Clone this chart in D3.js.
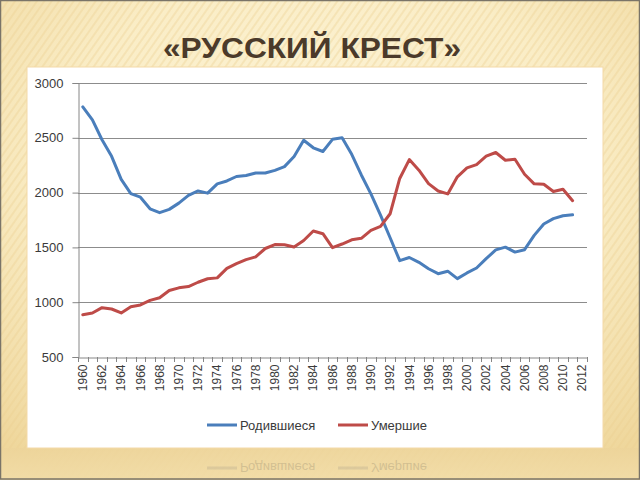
<!DOCTYPE html>
<html><head><meta charset="utf-8">
<script src="https://cdn.jsdelivr.net/npm/d3@7"></script>
<style>body{margin:0;padding:0;overflow:hidden;background:#fff}</style>
</head><body>
<svg id="c" width="640" height="480"></svg>
<script>
const titleText = "«РУССКИЙ КРЕСТ»";
const years = d3.range(1960, 2013).map(String);
const yTicks = [500, 1000, 1500, 2000, 2500, 3000];
const seriesNames = ["Родившиеся", "Умершие"];
const births = [2782,2663,2482,2331,2121,1991,1958,1852,1817,1847,1904,1975,2015,1995,2080,2106,2147,2156,2179,2179,2203,2237,2329,2478,2409,2375,2486,2500,2349,2161,1989,1795,1588,1379,1408,1364,1305,1260,1283,1215,1267,1312,1397,1477,1502,1457,1479,1610,1714,1762,1789,1797];
const deaths = [886,901,950,938,902,958,975,1017,1040,1107,1131,1143,1182,1214,1222,1309,1352,1388,1414,1490,1526,1524,1504,1563,1650,1625,1498,1531,1569,1583,1656,1691,1807,2129,2301,2204,2082,2015,1988,2144,2225,2255,2332,2366,2295,2304,2167,2080,2076,2010,2031,1926];
const colors = ["#4A7EBB", "#BE4B48"];

const svg = d3.select("#c");
const defs = svg.append("defs");
const rg = defs.append("radialGradient").attr("id","bg").attr("cx","50%").attr("cy","35%").attr("r","75%");
rg.append("stop").attr("offset","0%").attr("stop-color","#FDF4D8");
rg.append("stop").attr("offset","55%").attr("stop-color","#FAEDC6");
rg.append("stop").attr("offset","100%").attr("stop-color","#EFD79C");
const pat = defs.append("pattern").attr("id","stripes").attr("width",6).attr("height",6)
  .attr("patternUnits","userSpaceOnUse").attr("patternTransform","rotate(35)");
pat.append("rect").attr("width",2).attr("height",6).attr("fill","#E9CF90").attr("opacity",0.35);
const lg = defs.append("linearGradient").attr("id","bot").attr("x1",0).attr("y1",0).attr("x2",0).attr("y2",1);
lg.append("stop").attr("offset","0%").attr("stop-color","#EDD49A");
lg.append("stop").attr("offset","100%").attr("stop-color","#F2DDA8");

svg.append("rect").attr("width",640).attr("height",480).attr("fill","url(#bg)");
svg.append("rect").attr("width",640).attr("height",480).attr("fill","url(#stripes)");
svg.append("rect").attr("x",0).attr("y",448).attr("width",640).attr("height",32).attr("fill","url(#bot)").attr("opacity",0.85);

// Title
svg.append("text").attr("x",312).attr("y",58).attr("text-anchor","middle")
  .attr("font-family","'Liberation Sans Narrow','Liberation Sans',Arial,sans-serif")
  .attr("font-weight","bold").attr("font-size",29).attr("fill","#4B3A2A")
  .attr("textLength",298).attr("lengthAdjust","spacingAndGlyphs").text(titleText);

// Chart box
svg.append("rect").attr("x",27).attr("y",67).attr("width",576).attr("height",381)
  .attr("fill","#fff").attr("stroke","#F3D9A8").attr("stroke-width",1);

const x = d3.scaleBand().domain(years).range([78, 587]);
const y = d3.scaleLinear().domain([500, 3000]).range([357, 83]);

// Gridlines
svg.append("g").selectAll("line").data(yTicks.slice(1)).join("line")
  .attr("x1",78).attr("x2",587).attr("y1",d=>Math.round(y(d))+0.5).attr("y2",d=>Math.round(y(d))+0.5)
  .attr("stroke","#8C8C8C").attr("stroke-width",1);

// Y axis
const yAx = svg.append("g").attr("transform","translate(78.5,0)")
  .call(d3.axisLeft(y).tickValues(yTicks).tickSize(6).tickPadding(9).tickFormat(d3.format("d")));
yAx.select(".domain").attr("stroke","#868686");
yAx.selectAll(".tick line").attr("stroke","#868686");
yAx.selectAll("text").attr("font-family","'Liberation Sans',Arial,sans-serif").attr("font-size",13).attr("fill","#3A3A3A");

// X axis
const xAx = svg.append("g").attr("transform","translate(0,357.5)")
  .call(d3.axisBottom(x).tickSize(0).tickPadding(0).tickFormat(d => (+d % 2 === 0 ? d : "")));
xAx.select(".domain").attr("stroke","#868686");
xAx.selectAll(".tick text").attr("font-family","'Liberation Sans',Arial,sans-serif").attr("font-size",12).attr("fill","#3A3A3A")
  .attr("transform","rotate(-90)").attr("text-anchor","end").attr("x",-7).attr("y",0).attr("dy","0.35em");
// boundary tick marks
const bounds = years.map(d => x(d)).concat([x.range()[1]]);
svg.append("g").selectAll("line").data(bounds).join("line")
  .attr("x1",d=>Math.round(d)+0.5).attr("x2",d=>Math.round(d)+0.5).attr("y1",357).attr("y2",362)
  .attr("stroke","#868686");

// Lines
const line = d3.line().x((d,i)=>x(years[i]) + x.bandwidth()/2).y(d=>y(d));
[births, deaths].forEach((s,i)=>{
  svg.append("path").datum(s).attr("d",line).attr("fill","none")
    .attr("stroke",colors[i]).attr("stroke-width",3).attr("stroke-linejoin","round").attr("stroke-linecap","round");
});

// Legend
function legend(g, col){
  const items = [{x:207, tx:240}, {x:338, tx:371}];
  items.forEach((it,i)=>{
    g.append("line").attr("x1",it.x).attr("x2",it.x+30).attr("y1",0).attr("y2",0)
      .attr("stroke",col || colors[i]).attr("stroke-width",3);
    g.append("text").attr("x",it.tx).attr("y",0).attr("dy","0.35em")
      .attr("font-family","'Liberation Sans',Arial,sans-serif").attr("font-size",13).attr("fill","#3A3A3A")
      .text(seriesNames[i]);
  });
}
legend(svg.append("g").attr("transform","translate(0,425)"));
legend(svg.append("g").attr("transform","translate(0,468) scale(1,-1)").attr("opacity",0.16), "#777");

// Frame
svg.append("rect").attr("x",0.5).attr("y",0.5).attr("width",639).attr("height",478.5)
  .attr("fill","none").attr("stroke","#7A7468").attr("stroke-width",1.5);
</script>
</body></html>
